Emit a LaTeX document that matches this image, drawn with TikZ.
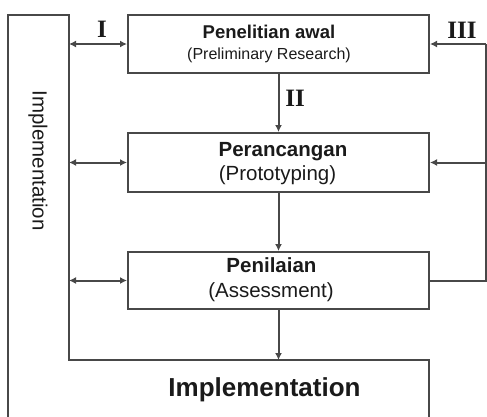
\documentclass[tikz,border=0pt]{standalone}
\usepackage{fontspec}
\setmainfont{Liberation Sans}
\newfontfamily\romanfont{Liberation Serif}
\usetikzlibrary{arrows.meta}
\definecolor{linegray}{HTML}{484848}
\definecolor{textblack}{HTML}{1A1A1A}
\begin{document}
\begin{tikzpicture}[x=1pt,y=-1pt,
  line/.style={draw=linegray, line width=2pt},
  box/.style={line, rectangle, minimum width=301pt, inner sep=0pt},
  arr/.style={line, -{Latex[length=7pt,width=7pt]}},
  darr/.style={line, {Latex[length=7pt,width=7pt]}-{Latex[length=7pt,width=7pt]}},
  txt/.style={anchor=base, inner sep=0pt, text=textblack},
  num/.style={txt, font=\romanfont\bfseries\fontsize{25}{25}\selectfont}
]
\useasboundingbox (0,0) rectangle (487,416);

% L-shaped implementation frame
\coordinate (Lb) at (8,420);
\coordinate (Lt) at (8,15);
\coordinate (Lit) at (69,15);
\coordinate (Lib) at (69,360);
\coordinate (Ir) at (428.5,360);
\coordinate (Irb) at (428.5,420);
\draw[line] (Lb) -- (Lt) -- (Lit) -- (Lib) -- (Ir) -- (Irb);

% boxes
\node[box, minimum height=58pt] (b1) at (278.5,44) {};
\node[box, minimum height=59pt] (b2) at (278.5,162.5) {};
\node[box, minimum height=57pt] (b3) at (278.5,280.5) {};

% box texts
\node[txt, font=\bfseries\fontsize{18.5}{20}\selectfont] (t1a) at (269,38.3) {Penelitian awal};
\node[txt, font=\fontsize{16}{18}\selectfont] (t1b) at (269,59.3) {(Preliminary Research)};
\node[txt, font=\bfseries\fontsize{20.5}{22}\selectfont] (t2a) at (283,156) {Perancangan};
\node[txt, font=\fontsize{20.5}{22}\selectfont] (t2b) at (277.5,180) {(Prototyping)};
\node[txt, font=\bfseries\fontsize{20.5}{22}\selectfont] (t3a) at (271.5,272.3) {Penilaian};
\node[txt, font=\fontsize{20.5}{22}\selectfont] (t3b) at (271,297) {(Assessment)};
\node[txt, font=\bfseries\fontsize{26}{28}\selectfont] (impl) at (264.5,396.7) {Implementation};
\node[inner sep=0pt, text=textblack, rotate=-90, font=\fontsize{20.5}{22}\selectfont] (vimpl) at (38,160.5) {Implementation};

% left double arrows
\coordinate (L1) at (69,44);
\coordinate (L2) at (69,162.5);
\coordinate (L3) at (69,280.5);
\draw[darr] (L1) -- (b1.west);
\draw[darr] (L2) -- (b2.west);
\draw[darr] (L3) -- (b3.west);

% vertical arrows
\coordinate (Itop) at (278.5,360);
\draw[arr] (b1.south) -- (b2.north);
\draw[arr] (b2.south) -- (b3.north);
\draw[arr] (b3.south) -- (Itop);

% right feedback
\coordinate (R1) at (485.5,44);
\coordinate (R2) at (485.5,162.5);
\coordinate (R3) at (485.5,280.5);
\draw[line] (b3.east) -- (R3) -- (R1);
\draw[arr] (R1) -- (b1.east);
\draw[arr] (R2) -- (b2.east);

% numerals
\node[num] (n1) at (102,37.3) {I};
\node[num] (n2) at (295,106.7) {II};
\node[num] (n3) at (462,38.3) {III};
\end{tikzpicture}
\end{document}
